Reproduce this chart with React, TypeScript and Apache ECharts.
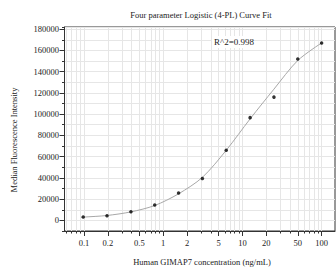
import React, { useEffect, useRef } from 'react';
import * as echarts from 'echarts';

// Measured standards (concentration ng/mL, median fluorescence intensity)
const concentrations = [0.0977, 0.195, 0.391, 0.781, 1.5625, 3.125, 6.25, 12.5, 25, 50, 100];
const mfi = [3100, 4400, 8200, 14400, 25700, 39500, 66000, 96700, 116000, 151800, 166900];

// Fitted 4-PL curve
const fitConc = [0.092, 0.0977, 0.195, 0.391, 0.781, 1.5625, 3.125, 6.25, 12.5, 25, 50, 100];
const fitMfi = [2900, 3050, 4600, 8000, 14000, 25000, 40500, 66000, 95500, 123500, 150500, 167000];

const xMajorTicks = [0.1, 0.2, 0.5, 1, 2, 5, 10, 20, 50, 100];
const xGridTicks = [
  0.06, 0.07, 0.08, 0.09,
  0.1, 0.2, 0.3, 0.4, 0.5, 0.6, 0.7, 0.8, 0.9,
  1, 2, 3, 4, 5, 6, 7, 8, 9,
  10, 20, 30, 40, 50, 60, 70, 80, 90,
  100,
];
const yMajorTicks = [0, 20000, 40000, 60000, 80000, 100000, 120000, 140000, 160000, 180000];

const TITLE = 'Four parameter Logistic (4-PL) Curve Fit';
const R2_TEXT = 'R^2=0.998';
const X_NAME = 'Human GIMAP7 concentration (ng/mL)';
const Y_NAME = 'Median Fluorescence Intensity';

const FONT = "'Liberation Serif', 'Times New Roman', serif";
const TEXT = '#222';

export default function App() {
  const ref = useRef<HTMLDivElement>(null);
  useEffect(() => {
    if (!ref.current) return;
    const chart = echarts.init(ref.current, null, { renderer: 'svg' });
    const lg = (v: number) => Math.log10(v);
    const xMin = lg(0.0567);
    const xMax = lg(147.6);
    const labelFor = (v: number) => {
      const t = xMajorTicks.find((m) => Math.abs(lg(m) - v) < 1e-6);
      return t === undefined ? '' : String(t);
    };
    chart.setOption({
      animation: false,
      backgroundColor: '#fff',
      grid: {
        left: 64.5,
        right: 1,
        top: 27,
        bottom: 37,
        show: true,
        borderColor: '#333',
        borderWidth: 1,
      },
      xAxis: [
        {
          type: 'value',
          min: xMin,
          max: xMax,
          axisLine: { show: true, onZero: false, lineStyle: { color: '#333' } },
          axisTick: { show: true, length: 2.5, customValues: xGridTicks.map(lg), lineStyle: { color: '#333' } },
          axisLabel: { show: false },
          splitLine: { show: true, lineStyle: { color: '#e6e6e6', width: 1 } },
        },
        {
          type: 'value',
          min: xMin,
          max: xMax,
          position: 'bottom',
          offset: 0,
          axisLine: { show: false, onZero: false },
          axisTick: { show: true, length: 5, customValues: xMajorTicks.map(lg), lineStyle: { color: '#333' } },
          axisLabel: {
            show: true,
            customValues: xMajorTicks.map(lg),
            formatter: (v: number) => labelFor(v),
            fontFamily: FONT,
            fontSize: 8.5,
            color: TEXT,
            margin: 7,
          },
          splitLine: { show: false },
        },
      ],
      yAxis: [
        {
          type: 'value',
          min: -10000,
          max: 182000,
          interval: 10000,
          axisLine: { show: true, onZero: false, lineStyle: { color: '#333' } },
          axisTick: { show: true, length: 2.5, lineStyle: { color: '#333' } },
          axisLabel: { show: false },
          splitLine: { show: true, lineStyle: { color: '#e6e6e6', width: 1 } },
        },
        {
          type: 'value',
          min: -10000,
          max: 182000,
          position: 'left',
          offset: 0,
          axisLine: { show: false, onZero: false },
          axisTick: { show: true, length: 5, customValues: yMajorTicks, lineStyle: { color: '#333' } },
          axisLabel: {
            show: true,
            customValues: yMajorTicks,
            formatter: (v: number) => String(v),
            fontFamily: FONT,
            fontSize: 8.5,
            color: TEXT,
            margin: 5.5,
          },
          splitLine: { show: false },
        },
      ],
      series: [
        {
          type: 'line',
          xAxisIndex: 0,
          yAxisIndex: 0,
          data: fitConc.map((c, i) => [lg(c), fitMfi[i]]),
          smooth: 0.3,
          showSymbol: false,
          symbol: 'none',
          lineStyle: { color: '#a8a8a8', width: 1 },
          z: 2,
        },
        {
          type: 'scatter',
          xAxisIndex: 0,
          yAxisIndex: 0,
          data: concentrations.map((c, i) => [lg(c), mfi[i]]),
          symbol: 'circle',
          symbolSize: 3.5,
          itemStyle: { color: '#000' },
          z: 3,
        },
      ],
      graphic: [
        {
          type: 'text',
          x: 201,
          y: 15,
          style: { text: TITLE, font: `8.5px ${FONT}`, fill: TEXT, textAlign: 'center', textVerticalAlign: 'middle' },
        },
        {
          type: 'rect',
          shape: { x: 212, y: 36, width: 40, height: 12 },
          style: { fill: '#fff' },
          z: 50,
        },
        {
          type: 'text',
          x: 214,
          y: 42,
          z: 51,
          style: { text: R2_TEXT, font: `9px ${FONT}`, fill: TEXT, textAlign: 'left', textVerticalAlign: 'middle' },
        },
        {
          type: 'text',
          x: 202,
          y: 261.5,
          style: { text: X_NAME, font: `8.5px ${FONT}`, fill: TEXT, textAlign: 'center', textVerticalAlign: 'middle' },
        },
        {
          type: 'text',
          x: 14,
          y: 140,
          rotation: Math.PI / 2,
          style: { text: Y_NAME, font: `8.5px ${FONT}`, fill: TEXT, textAlign: 'center', textVerticalAlign: 'middle' },
        },
      ],
    });
    return () => chart.dispose();
  }, []);
  return <div ref={ref} style={{ position: 'fixed', left: 0, top: 0, width: 336, height: 268 }} />;
}
